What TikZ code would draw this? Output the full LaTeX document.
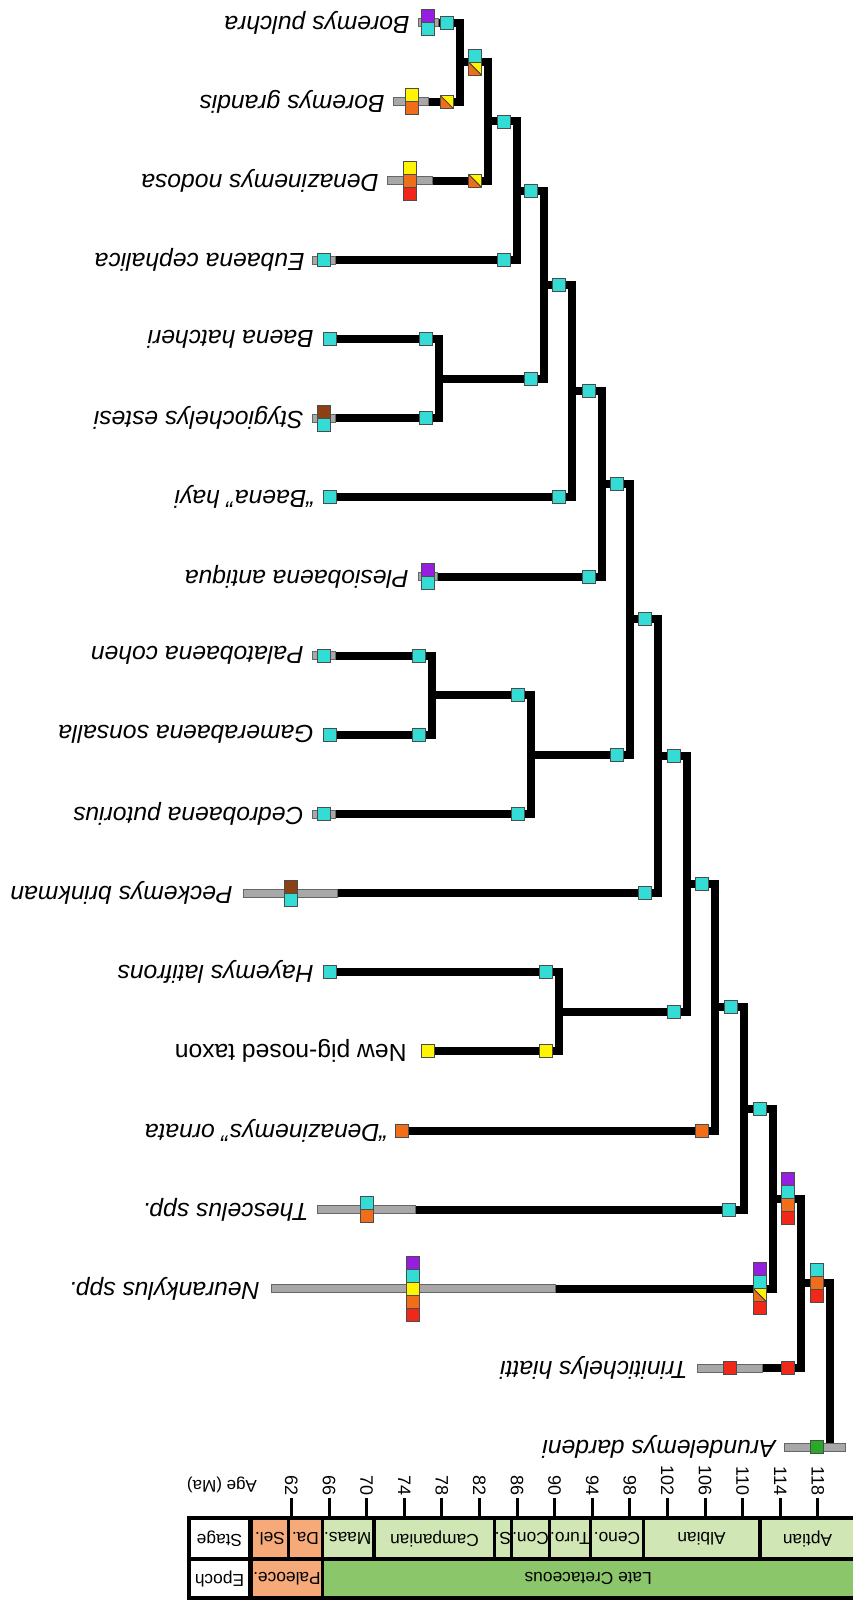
\documentclass[tikz,border=0pt]{standalone}
\usepackage{fontspec}
\setmainfont{Liberation Sans}

\definecolor{chrcy}{RGB}{51,221,214}
\definecolor{chrpu}{RGB}{150,30,225}
\definecolor{chror}{RGB}{240,110,25}
\definecolor{chrre}{RGB}{240,40,25}
\definecolor{chrye}{RGB}{255,245,0}
\definecolor{chrbr}{RGB}{140,65,20}
\definecolor{chrgr}{RGB}{40,170,40}
\definecolor{rangegray}{RGB}{168,168,168}
\definecolor{paleo}{RGB}{246,170,122}
\definecolor{stagegreen}{RGB}{208,230,180}
\definecolor{epochgreen}{RGB}{140,198,106}

\tikzset{every picture/.style={line width=0.75pt}}
\tikzset{
  branch/.style={line width=6pt, black},
  rangebar/.style={fill=rangegray, draw=black!60, line width=0.6pt},
  chrbox/.style={draw=black!70, line width=0.6pt},
  chr/cy/.style={fill=chrcy}, chr/pu/.style={fill=chrpu}, chr/or/.style={fill=chror},
  chr/re/.style={fill=chrre}, chr/ye/.style={fill=chrye}, chr/br/.style={fill=chrbr},
  chr/gr/.style={fill=chrgr},
  chr/sp/.style={fill=chrye, path picture={
      \fill[chror] (path picture bounding box.north west) -- (path picture bounding box.south west) -- (path picture bounding box.south east) -- cycle;
      \draw[black!80, line width=0.6pt] (path picture bounding box.north west) -- (path picture bounding box.south east);}},
  taxon/.style={font=\itshape\fontsize{18.5}{20}\selectfont, rotate=180, anchor=west, inner sep=0pt},
  celltext/.style={font=\fontsize{13}{14}\selectfont, rotate=180, inner sep=0pt},
  agelabel/.style={font=\fontsize{13.5}{14}\selectfont, rotate=-90, anchor=east, inner sep=0pt},
  tick/.style={line width=2.25pt}
}

% stack of character boxes: x, y, number of boxes, colours
\newcommand{\chrstack}[4]{%
  \foreach \cc [count=\ii] in {#4} {
    \pgfmathsetmacro\yy{#2+(\ii-(#3+1)/2)*13}
    \filldraw[chrbox, chr/\cc] ({#1-6.5},{\yy-6.5}) rectangle ++(13,13);
  }}

\begin{document}
\begin{tikzpicture}[x=0.75pt,y=0.75pt,yscale=-1,xscale=1]
\useasboundingbox (0,0) rectangle (853,1604);

%Tree nodes
\coordinate (nA) at (459.5,62.05);
\coordinate (nB) at (488,121.4);
\coordinate (nC) at (517,190.7);
\coordinate (nD) at (439,378.7);
\coordinate (nE) at (544,284.7);
\coordinate (nF) at (572,391.0);
\coordinate (nG) at (602,483.8);
\coordinate (nH) at (432,695.2);
\coordinate (nI) at (531,754.6);
\coordinate (nJ) at (630,619.2);
\coordinate (nK) at (658,756.1);
\coordinate (nL) at (559,1011.8);
\coordinate (nM) at (687,884.0);
\coordinate (nN) at (715,1007.3);
\coordinate (nO) at (744,1108.5);
\coordinate (nP) at (773,1198.6);
\coordinate (nQ) at (801,1283.3);
\coordinate (nR) at (830,1365.2);

%Tips
\coordinate (tPul) at (438,22.5);
\coordinate (tGra) at (428,101.6);
\coordinate (tNod) at (432,180.8);
\coordinate (tEub) at (335,259.9);
\coordinate (tHat) at (330,339.1);
\coordinate (tSty) at (335,418.2);
\coordinate (tHay) at (330,497.3);
\coordinate (tPle) at (437,576.5);
\coordinate (tPal) at (335,655.6);
\coordinate (tGam) at (330,734.8);
\coordinate (tCed) at (335,813.9);
\coordinate (tPec) at (337,893.0);
\coordinate (tLat) at (330,972.2);
\coordinate (tPig) at (428,1051.3);
\coordinate (tOrn) at (402,1130.5);
\coordinate (tThe) at (415,1209.6);
\coordinate (tNeu) at (555,1288.7);
\coordinate (tTri) at (762,1367.9);
\coordinate (tAru) at (830,1447.0);

%Branches
\draw[branch] (tPul) -| (nA);
\draw[branch] (tGra) -| (nA);
\draw[branch] (nA) -| (nB);
\draw[branch] (tNod) -| (nB);
\draw[branch] (nB) -| (nC);
\draw[branch] (tEub) -| (nC);
\draw[branch] (tHat) -| (nD);
\draw[branch] (tSty) -| (nD);
\draw[branch] (nC) -| (nE);
\draw[branch] (nD) -| (nE);
\draw[branch] (nE) -| (nF);
\draw[branch] (tHay) -| (nF);
\draw[branch] (nF) -| (nG);
\draw[branch] (tPle) -| (nG);
\draw[branch] (tPal) -| (nH);
\draw[branch] (tGam) -| (nH);
\draw[branch] (nH) -| (nI);
\draw[branch] (tCed) -| (nI);
\draw[branch] (nG) -| (nJ);
\draw[branch] (nI) -| (nJ);
\draw[branch] (nJ) -| (nK);
\draw[branch] (tPec) -| (nK);
\draw[branch] (tLat) -| (nL);
\draw[branch] (tPig) -| (nL);
\draw[branch] (nK) -| (nM);
\draw[branch] (nL) -| (nM);
\draw[branch] (nM) -| (nN);
\draw[branch] (tOrn) -| (nN);
\draw[branch] (nN) -| (nO);
\draw[branch] (tThe) -| (nO);
\draw[branch] (nO) -| (nP);
\draw[branch] (tNeu) -| (nP);
\draw[branch] (nP) -| (nQ);
\draw[branch] (tTri) -| (nQ);
\draw[branch] (nQ) -| (nR);
\draw[branch] (tAru) -- (nR);

%Range bars
\foreach \xa/\xb/\ry in {418/438/22.5, 393/428/101.6, 387/432/180.8, 312/335/259.9,
    312/335/418.2, 418/437/576.5, 312/335/655.6, 312/335/813.9, 243/337/893.0,
    317/415/1209.6, 271/555/1288.7, 697/762/1367.9, 784/845/1447.0}
  \filldraw[rangebar] (\xa,\ry-4) rectangle (\xb,\ry+4);

%Tip characters
\chrstack{428}{22.5}{2}{pu,cy}
\chrstack{411.5}{101.6}{2}{ye,or}
\chrstack{410}{180.8}{3}{ye,or,re}
\chrstack{324}{259.9}{1}{cy}
\chrstack{329.5}{339.1}{1}{cy}
\chrstack{324}{418.2}{2}{br,cy}
\chrstack{329.5}{497.3}{1}{cy}
\chrstack{427.5}{576.5}{2}{pu,cy}
\chrstack{324}{655.6}{1}{cy}
\chrstack{329.5}{734.8}{1}{cy}
\chrstack{324}{813.9}{1}{cy}
\chrstack{290.5}{893.0}{2}{br,cy}
\chrstack{329.5}{972.2}{1}{cy}
\chrstack{427.5}{1051.3}{1}{ye}
\chrstack{401.5}{1130.5}{1}{or}
\chrstack{366.5}{1209.6}{2}{cy,or}
\chrstack{412.5}{1288.7}{5}{pu,cy,ye,or,re}
\chrstack{729.5}{1367.9}{1}{re}
\chrstack{816.5}{1447.0}{1}{gr}

%Branch characters
\chrstack{446.5}{22.5}{1}{cy}
\chrstack{446.5}{101.6}{1}{sp}
\chrstack{475}{180.8}{1}{sp}
\chrstack{504}{259.9}{1}{cy}
\chrstack{426}{339.1}{1}{cy}
\chrstack{426}{418.2}{1}{cy}
\chrstack{559}{497.3}{1}{cy}
\chrstack{589}{576.5}{1}{cy}
\chrstack{419}{655.6}{1}{cy}
\chrstack{419}{734.8}{1}{cy}
\chrstack{518}{813.9}{1}{cy}
\chrstack{645}{893.0}{1}{cy}
\chrstack{546}{972.2}{1}{cy}
\chrstack{546}{1051.3}{1}{ye}
\chrstack{702}{1130.5}{1}{or}
\chrstack{729}{1209.6}{1}{cy}
\chrstack{760}{1288.7}{4}{pu,cy,sp,re}
\chrstack{788}{1367.9}{1}{re}
\chrstack{475}{62.05}{2}{cy,sp}
\chrstack{504}{121.4}{1}{cy}
\chrstack{531}{190.7}{1}{cy}
\chrstack{531}{378.7}{1}{cy}
\chrstack{559}{284.7}{1}{cy}
\chrstack{589}{391.0}{1}{cy}
\chrstack{617}{483.8}{1}{cy}
\chrstack{518}{695.2}{1}{cy}
\chrstack{617}{754.6}{1}{cy}
\chrstack{645}{619.2}{1}{cy}
\chrstack{674}{756.1}{1}{cy}
\chrstack{674}{1011.8}{1}{cy}
\chrstack{702}{884.0}{1}{cy}
\chrstack{731}{1007.3}{1}{cy}
\chrstack{760}{1108.5}{1}{cy}
\chrstack{788}{1198.6}{4}{pu,cy,or,re}
\chrstack{817}{1283.3}{3}{cy,or,re}

% Taxon labels
\node[taxon] (lPul) at (410,22.5) {Boremys pulchra};
\node[taxon] (lGra) at (385,101.6) {Boremys grandis};
\node[taxon] (lNod) at (379,180.8) {Denazinemys nodosa};
\node[taxon] (lEub) at (305,259.9) {Eubaena cephalica};
\node[taxon] (lHat) at (314,339.1) {Baena hatcheri};
\node[taxon] (lSty) at (304,418.2) {Stygiochelys estesi};
\node[taxon] (lHay) at (315,497.3) {“Baena” hayi};
\node[taxon] (lPle) at (409,576.5) {Plesiobaena antiqua};
\node[taxon] (lPal) at (304,655.6) {Palatobaena cohen};
\node[taxon] (lGam) at (314,734.8) {Gamerabaena sonsalla};
\node[taxon] (lCed) at (304,813.9) {Cedrobaena putorius};
\node[taxon] (lPec) at (233,893.0) {Peckemys brinkman};
\node[taxon] (lLat) at (314,972.2) {Hayemys latifrons};
\node[taxon, font=\upshape\fontsize{18.5}{20}\selectfont] (lPig) at (407,1051.3) {New pig-nosed taxon};
\node[taxon] (lOrn) at (388,1130.5) {“Denazinemys” ornata};
\node[taxon] (lThe) at (309,1209.6) {Thescelus spp.};
\node[taxon] (lNeu) at (260,1288.7) {Neurankylus spp.};
\node[taxon] (lTri) at (688,1367.9) {Trinitichelys hiatti};
\node[taxon] (lAru) at (776,1447.0) {Arundelemys dardeni};

%Time scale
\fill[black] (187,1516) rectangle (853,1600);
\foreach \xa/\xb/\cl/\tx [count=\k] in {191/248/white/Stage, 253/287/paleo/Sel., 290/321/paleo/Da.,
    323.5/372/stagegreen/Maas., 376/493/stagegreen/Campanian, 496/510/stagegreen/S.,
    513/548/stagegreen/Con., 551/589/stagegreen/Turo., 592/642/stagegreen/Ceno.,
    645/758/stagegreen/Albian, 762/853/stagegreen/Aptian} {
  \fill[\cl] (\xa,1520) rectangle (\xb,1557);
  \node[celltext] (stage\k) at ({(\xa+\xb)/2},1538.5) {\tx};
}
\foreach \xa/\xb/\cl/\tx [count=\k] in {191/248/white/Epoch, 253/321/paleo/Paleoce.,
    323.5/853/epochgreen/Late Cretaceous} {
  \fill[\cl] (\xa,1561) rectangle (\xb,1596);
  \node[celltext] (epoch\k) at ({(\xa+\xb)/2},1578.5) {\tx};
}
\foreach \age in {62,66,...,118} {
  \pgfmathsetmacro\tx{329+9.4*(\age-66)}
  \draw[tick] (\tx,1498) -- (\tx,1516);
  \node[agelabel] (age\age) at (\tx,1496) {\age};
}
% Text Node
\node[celltext, font=\fontsize{12.75}{13}\selectfont] (agetitle) at (222,1485) {Age (Ma)};

\end{tikzpicture}
\end{document}
